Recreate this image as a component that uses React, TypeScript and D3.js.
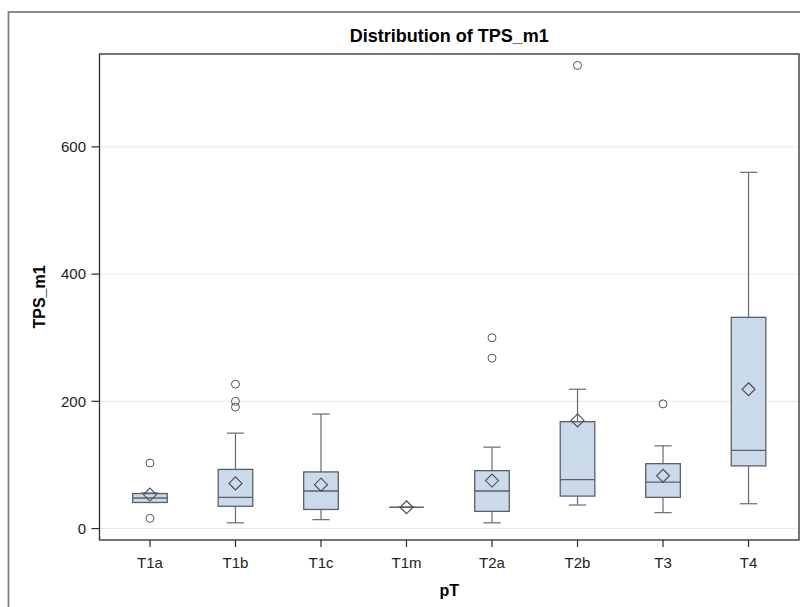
import React from "react";
import * as d3 from "d3";

// Box plot summary of TPS_m1 by pT stage
const categories = ["T1a", "T1b", "T1c", "T1m", "T2a", "T2b", "T3", "T4"];
const whiskerLow = [41, 9, 14, 33.5, 9, 37, 25, 39];
const q1 = [41, 35, 30, 33.5, 27, 51, 49, 98.5];
const median = [48, 49, 59, 33.5, 59, 77, 73, 123];
const q3 = [55, 93, 89, 33.5, 91, 168, 102, 332];
const whiskerHigh = [56, 150, 180, 33.5, 128, 219, 130, 560];
const means = [53.5, 71, 69, 33.5, 75.5, 170, 83, 219];
const outliers: number[][] = [[103, 16], [227, 200, 191], [], [], [300, 268], [728], [196], []];
const yTicks = [0, 200, 400, 600];

const W = 800;
const H = 607;
const plot = { left: 99.5, right: 799, top: 54, bottom: 540 };
const FONT = "'Liberation Sans', Arial, Helvetica, sans-serif";

export default function App() {
  const x = d3
    .scalePoint<string>()
    .domain(categories)
    .range([plot.left, plot.right])
    .padding(0.59);
  const y = d3.scaleLinear().domain([-18, 746]).range([plot.bottom, plot.top]);

  const boxW = 34.6;
  const capW = boxW / 2;
  const boxStroke = "#5b6068";
  const lineStroke = "#6a6a6a";
  const diamond = (cx: number, cy: number, r: number) =>
    `M${cx},${cy - r}L${cx + r},${cy}L${cx},${cy + r}L${cx - r},${cy}Z`;

  return (
    <svg
      width={W}
      height={H}
      style={{ position: "absolute", left: 0, top: 0, display: "block", background: "#fff" }}
      fontFamily={FONT}
    >
      {/* outer graph border */}
      <rect x={8.5} y={12} width={W} height={H} fill="none" stroke="#808080" strokeWidth={1.8} />

      <text x={(plot.left + plot.right) / 2} y={42} textAnchor="middle" fontSize={18} fontWeight="bold" fill="#000">
        Distribution of TPS_m1
      </text>

      {/* gridlines */}
      {yTicks.map((t) => (
        <line key={"g" + t} x1={plot.left} x2={plot.right} y1={y(t)} y2={y(t)} stroke="#e9e9e9" strokeWidth={1} />
      ))}

      {categories.map((c, i) => {
        const cx = x(c)!;
        return (
          <g key={c}>
            {/* whiskers */}
            <line x1={cx} x2={cx} y1={y(q3[i])} y2={y(whiskerHigh[i])} stroke={lineStroke} strokeWidth={1.2} />
            <line x1={cx} x2={cx} y1={y(q1[i])} y2={y(whiskerLow[i])} stroke={lineStroke} strokeWidth={1.2} />
            <line x1={cx - capW / 2} x2={cx + capW / 2} y1={y(whiskerHigh[i])} y2={y(whiskerHigh[i])} stroke={lineStroke} strokeWidth={1.2} />
            <line x1={cx - capW / 2} x2={cx + capW / 2} y1={y(whiskerLow[i])} y2={y(whiskerLow[i])} stroke={lineStroke} strokeWidth={1.2} />
            {/* box */}
            <rect
              x={cx - boxW / 2}
              y={y(q3[i])}
              width={boxW}
              height={Math.max(0, y(q1[i]) - y(q3[i]))}
              fill="#cbdaeb"
              stroke={boxStroke}
              strokeWidth={1.3}
            />
            <line x1={cx - boxW / 2} x2={cx + boxW / 2} y1={y(median[i])} y2={y(median[i])} stroke={boxStroke} strokeWidth={1.3} />
            {/* mean */}
            <path d={diamond(cx, y(means[i]), 6.5)} fill="none" stroke="#4a4a4a" strokeWidth={1.1} />
            {/* outliers */}
            {outliers[i].map((v, k) => (
              <circle key={k} cx={cx} cy={y(v)} r={4} fill="none" stroke="#555" strokeWidth={1} />
            ))}
          </g>
        );
      })}

      {/* plot frame */}
      <rect
        x={plot.left}
        y={plot.top}
        width={plot.right - plot.left}
        height={plot.bottom - plot.top}
        fill="none"
        stroke="#2b2b2b"
        strokeWidth={1.3}
      />

      {/* y axis */}
      {yTicks.map((t) => (
        <g key={"yt" + t}>
          <line x1={plot.left - 8} x2={plot.left} y1={y(t)} y2={y(t)} stroke="#2b2b2b" strokeWidth={1.2} />
          <text x={86} y={y(t)} dy="0.36em" textAnchor="end" fontSize={15} fill="#222">
            {t}
          </text>
        </g>
      ))}
      <text
        transform={`translate(45,${(plot.top + plot.bottom) / 2}) rotate(-90)`}
        textAnchor="middle"
        fontSize={16}
        fontWeight="bold"
        fill="#000"
      >
        TPS_m1
      </text>

      {/* x axis */}
      {categories.map((c) => (
        <g key={"xt" + c}>
          <line x1={x(c)!} x2={x(c)!} y1={plot.bottom} y2={plot.bottom + 7} stroke="#2b2b2b" strokeWidth={1.2} />
          <text x={x(c)!} y={567.5} textAnchor="middle" fontSize={15} fill="#222">
            {c}
          </text>
        </g>
      ))}
      <text x={(plot.left + plot.right) / 2} y={596} textAnchor="middle" fontSize={16} fontWeight="bold" fill="#000">
        pT
      </text>
    </svg>
  );
}
